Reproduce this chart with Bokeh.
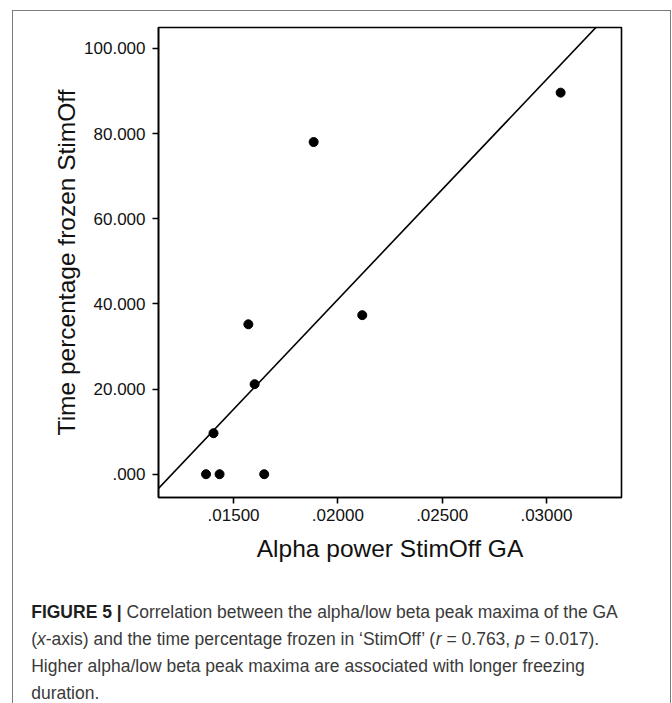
import numpy as np
from bokeh.plotting import figure
from bokeh.layouts import column
from bokeh.models import Range1d, FixedTicker, Label
from bokeh.embed import file_html
from bokeh.resources import INLINE

# ---------------- data ----------------
alpha_power = [0.01368, 0.01433, 0.01647, 0.01404, 0.01601, 0.01571, 0.01884, 0.02117, 0.03068]
time_frozen = [0.0, 0.0, 0.0, 9.63, 21.14, 35.2, 78.0, 37.35, 89.6]

x_ticks = [0.015, 0.020, 0.025, 0.030]
x_tick_labels = [".01500", ".02000", ".02500", ".03000"]
y_ticks = [0, 20, 40, 60, 80, 100]
y_tick_labels = [".000", "20.000", "40.000", "60.000", "80.000", "100.000"]

x_title = "Alpha power StimOff GA"
y_title = "Time percentage frozen StimOff"

# caption: list of lines, each a list of (text, style)
caption = [
    [("FIGURE 5 |", "bold"), (" Correlation between the alpha/low beta peak maxima of the GA", "normal")],
    [("(", "normal"), ("x", "italic"), ("-axis) and the time percentage frozen in \u2018StimOff\u2019 (", "normal"),
     ("r", "italic"), (" = 0.763, ", "normal"), ("p", "italic"), (" = 0.017).", "normal")],
    [("Higher alpha/low beta peak maxima are associated with longer freezing", "normal")],
    [("duration.", "normal")],
]

X_RANGE = (0.011402, 0.033598)
Y_RANGE = (-5.47, 104.9)

FONT = "Liberation Sans"
WIDTH = 657

# ---------------- chart ----------------
p = figure(width=WIDTH, height=584,
           x_range=Range1d(*X_RANGE), y_range=Range1d(*Y_RANGE),
           output_backend="svg", toolbar_location=None,
           min_border_left=145, min_border_right=49,
           min_border_top=16, min_border_bottom=98,
           background_fill_color="white", border_fill_color="white")
p.frame_align = False

p.grid.visible = False
p.outline_line_color = "black"
p.outline_line_width = 1.6

# regression line (OLS fit of the data)
slope, intercept = np.polyfit(alpha_power, time_frozen, 1)
fit_x = list(X_RANGE)
fit_y = [slope * v + intercept for v in fit_x]
p.line(fit_x, fit_y, line_color="black", line_width=1.6)

p.scatter(alpha_power, time_frozen, size=9, color="black")

for ax in (p.xaxis[0], p.yaxis[0]):
    ax.axis_line_color = "black"
    ax.axis_line_width = 1.6
    ax.major_tick_line_color = "black"
    ax.major_tick_line_width = 1.6
    ax.major_tick_out = 6
    ax.major_tick_in = 0
    ax.minor_tick_out = 0
    ax.minor_tick_in = 0
    ax.major_label_text_font = FONT
    ax.major_label_text_font_size = "17px"
    ax.major_label_text_color = "#111111"
    ax.axis_label_text_font = FONT
    ax.axis_label_text_font_size = "24.5px"
    ax.axis_label_text_font_style = "normal"
    ax.axis_label_text_color = "#111111"

p.xaxis.ticker = FixedTicker(ticks=x_ticks)
p.xaxis.major_label_overrides = dict(zip(x_ticks, x_tick_labels))
p.xaxis.major_label_standoff = 5
p.xaxis.axis_label = x_title
p.xaxis.axis_label_standoff = 11

p.yaxis.ticker = FixedTicker(ticks=y_ticks)
p.yaxis.major_label_overrides = dict(zip(y_ticks, y_tick_labels))
p.yaxis.major_label_standoff = 7
p.yaxis.axis_label = y_title
p.yaxis.axis_label_standoff = 1

# ---------------- caption panel ----------------
cap = figure(width=WIDTH, height=108, x_range=Range1d(0, 1), y_range=Range1d(0, 1),
             output_backend="svg", toolbar_location=None,
             min_border=0, min_border_left=0, min_border_right=0,
             min_border_top=0, min_border_bottom=0,
             background_fill_color="white", border_fill_color="white")
cap.frame_align = False
cap.axis.visible = False
cap.grid.visible = False
cap.outline_line_color = None

# Arial / Liberation Sans advance widths (per 1000 em), used to chain styled runs
W_REG = {" ": 278, "(": 333, ")": 333, "-": 333, ".": 278, ",": 278, "=": 584, "/": 278,
         "\u2018": 222, "\u2019": 222, "|": 260}
W_REG.update({c: 556 for c in "0123456789"})
W_REG.update(dict(zip("abcdefghijklmnopqrstuvwxyz",
                      [556, 556, 500, 556, 556, 278, 556, 556, 222, 222, 500, 222, 833,
                       556, 556, 556, 556, 333, 500, 278, 556, 500, 722, 500, 500, 500])))
W_REG.update(dict(zip("ABCDEFGHIJKLMNOPQRSTUVWXYZ",
                      [667, 667, 722, 722, 667, 611, 778, 722, 278, 500, 667, 556, 833,
                       722, 778, 667, 778, 722, 667, 611, 722, 667, 944, 667, 667, 611])))
W_BOLD = {"F": 611, "I": 278, "G": 778, "U": 722, "R": 722, "E": 667, " ": 278, "5": 556, "|": 280}

CAP_SIZE = 17.5
CAP_X0 = 17.7
CAP_Y = [92.0, 64.6, 37.4, 10.4]


def text_width(s, style):
    table = W_BOLD if style == "bold" else W_REG
    return sum(table.get(ch, 556) for ch in s) * CAP_SIZE / 1000.0


for line, ypos in zip(caption, CAP_Y):
    cursor = CAP_X0
    for seg, style in line:
        lead = len(seg) - len(seg.lstrip(" "))
        txt = seg.strip(" ")
        cap.add_layout(Label(x=cursor + text_width(" " * lead, style), y=ypos,
                             x_units="screen", y_units="screen", text=txt,
                             text_font=FONT, text_font_size=f"{CAP_SIZE}px",
                             text_font_style=style,
                             text_color="#1e1e1e" if style == "bold" else "#3a3a3a",
                             text_baseline="alphabetic", text_align="left"))
        cursor += text_width(seg, style)

layout = column(p, cap, spacing=0)
layout.margin = (10, 0, 0, 12)
layout.styles = {"border-left": "1px solid #7c7c7c",
                 "border-top": "1px solid #7c7c7c",
                 "border-right": "1px solid #7c7c7c"}

open("out.html", "w").write(file_html(layout, INLINE))
